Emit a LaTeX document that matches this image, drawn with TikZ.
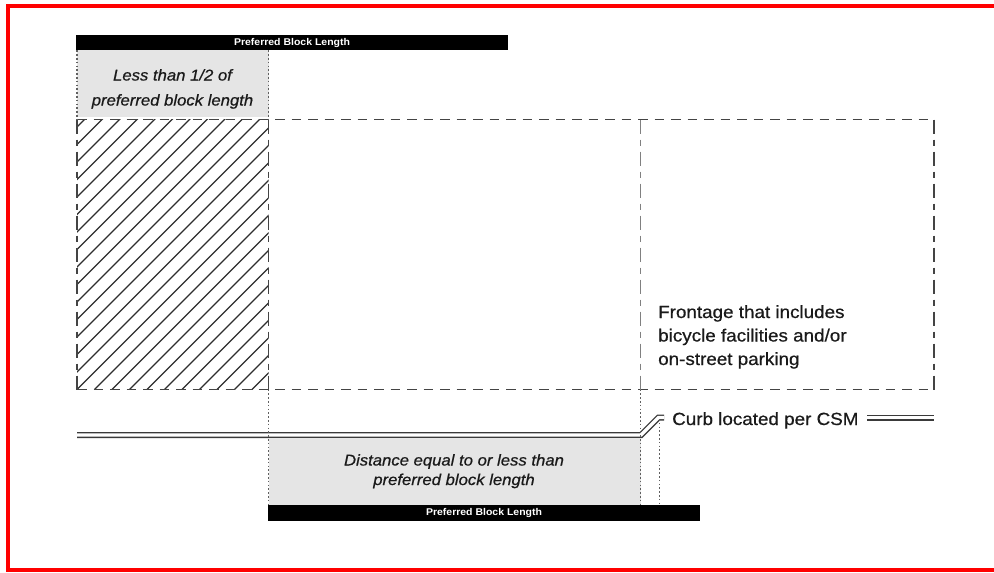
\documentclass[tikz,border=0pt]{standalone}
\usepackage{fontspec}
\setmainfont{Liberation Sans}[FakeStretch=1.07]
\newfontfamily\medfont{Liberation Sans}[FakeStretch=1.07,FakeBold=0.6]
\definecolor{boxgray}{HTML}{E5E5E5}
\definecolor{edgegray}{HTML}{444444}
\definecolor{lightedge}{HTML}{808080}
\definecolor{dotgray}{HTML}{606060}
\definecolor{hatchgray}{HTML}{2E2E2E}
\definecolor{curbgray}{HTML}{3A3A3A}
\definecolor{txt}{HTML}{1A1A1A}
\begin{document}
\begin{tikzpicture}[x=1pt,y=-1pt,
  bar/.style={fill=black,text=white,inner sep=0pt,minimum height=15.5pt,
    font=\bfseries\fontsize{9.8}{11}\selectfont},
  ital/.style={anchor=base,inner sep=0pt,text=txt,
    font=\medfont\itshape\fontsize{15.6}{18}\selectfont},
  plain/.style={anchor=base west,inner sep=0pt,text=txt,
    font=\medfont\fontsize{17.6}{20}\selectfont},
  hedge/.style={draw=edgegray,line width=1.4pt,dash pattern=on 9.5pt off 7pt},
  vedge/.style={draw=edgegray,line width=1.4pt,dash pattern=on 14pt off 6pt on 6pt off 6pt},
  midedge/.style={draw=lightedge,line width=1.3pt,dash pattern=on 14pt off 6pt on 6pt off 6pt},
  dotline/.style={draw=dotgray,line width=1.2pt,dash pattern=on 1.6pt off 2.2pt},
  hatchline/.style={draw=hatchgray,line width=1.1pt},
  curb/.style={draw=curbgray,line width=1.4pt,double=white,double distance=3.2pt}]
\clip (0,0) rectangle (994,573);
\fill[white] (0,0) rectangle (994,573);
\draw[red,line width=4pt] (8,6) rectangle (1010,570);

% coordinates
\coordinate (tl) at (77,119.5);
\coordinate (tr) at (934,119.5);
\coordinate (br) at (934,389.5);
\coordinate (bl) at (77,389.5);
\coordinate (ht) at (268.5,119.5);
\coordinate (hb) at (268.5,389.5);
\coordinate (mt) at (640.5,119.5);
\coordinate (mb) at (640.5,389.5);

% top bar and grey box
\node[bar,minimum width=432pt] (topbar) at (292,42.5) {Preferred Block Length};
\fill[boxgray] (77,50.3) rectangle (268.5,117);
\node[ital] (lt1) at (172.5,80.5) {Less than 1/2 of};
\node[ital] (lt2) at (172.5,105.5) {preferred block length};

% bottom grey box and bar
\fill[boxgray] (268.5,438.5) rectangle (640.5,505);
\node[ital] (dt1) at (454,465.5) {Distance equal to or less than};
\node[ital] (dt2) at (454,485) {preferred block length};
\node[bar,minimum width=432pt] (botbar) at (484,512.8) {Preferred Block Length};

% hatch
\begin{scope}
\clip (tl) rectangle (hb);
\foreach \k in {-18,...,12}{
  \draw[hatchline] (77+17.5*\k,389.5) -- ++(300,-300);
}
\end{scope}

% dashed outline
\draw[hedge] (tl) -- (tr);
\draw[hedge] (bl) -- (br);
\draw[vedge] (tl) -- (bl);
\draw[vedge] (tr) -- (br);
\draw[vedge] (ht) -- (hb);
\draw[midedge] (mt) -- (mb);

% curb
\coordinate (c0) at (77,435);
\coordinate (c1) at (641,435);
\coordinate (c2) at (658.5,417.5);
\coordinate (c3) at (664,417.5);
\coordinate (c4) at (867,417.5);
\coordinate (c5) at (934,417.5);
\draw[curb] (c0) -- (c1) -- (c2) -- (c3);
\draw[curb] (c4) -- (c5);
\node[plain] (curbtxt) at (672,425) {Curb located per CSM};

% dotted guides
\draw[dotline] (77,50.3) -- (tl);
\draw[dotline] (268.5,50.3) -- (ht);
\draw[dotline] (hb) -- (268.5,505);
\draw[dotline] (mb) -- (640.5,505);
\draw[dotline] (659.3,419) -- (659.3,505);

% frontage text
\node[plain] (f1) at (658,318) {Frontage that includes};
\node[plain] (f2) at (658,341.5) {bicycle facilities and/or};
\node[plain] (f3) at (658,365) {on-street parking};
\end{tikzpicture}
\end{document}
